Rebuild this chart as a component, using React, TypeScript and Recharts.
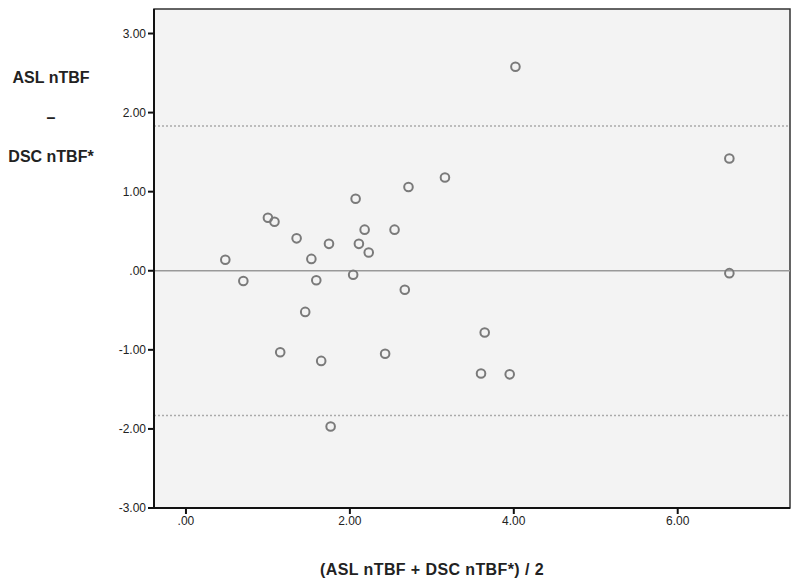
import React from 'react';
import { ScatterChart, Scatter, XAxis, YAxis, ReferenceLine, ReferenceArea } from 'recharts';

const meanValues = [0.48, 0.70, 1.00, 1.08, 1.15, 1.35, 1.455, 1.53, 1.59, 1.65, 1.745, 1.765, 2.04, 2.07, 2.11, 2.18, 2.23, 2.43, 2.545, 2.67, 2.715, 3.16, 4.02, 3.645, 3.60, 3.95, 6.63, 6.63];
const diffValues = [0.14, -0.13, 0.67, 0.62, -1.03, 0.41, -0.52, 0.15, -0.12, -1.14, 0.34, -1.97, -0.05, 0.91, 0.34, 0.52, 0.23, -1.05, 0.52, -0.24, 1.06, 1.18, 2.58, -0.78, -1.30, -1.31, 1.42, -0.03];
const xTicks = [0, 2, 4, 6];
const yTicks = [-3, -2, -1, 0, 1, 2, 3];
const meanDiff = 0;
const limitUpper = 1.83;
const limitLower = -1.83;
const xDomain: [number, number] = [-0.39, 7.37];
const yDomain: [number, number] = [-3, 3.31];

const data = meanValues.map((m, i) => ({ x: m, y: diffValues[i] }));

const fmt = (v: number) => (v === 0 ? '.00' : v.toFixed(2));

const FONT = '"Liberation Sans", Arial, sans-serif';

const YLabel = () => (
  <g>
    <text x={51} y={83} textAnchor="middle" fontFamily={FONT} fontWeight="bold" fontSize={16} fill="#222">ASL nTBF</text>
    <text x={51} y={123} textAnchor="middle" fontFamily={FONT} fontWeight="bold" fontSize={16} fill="#222">–</text>
    <text x={51} y={162} textAnchor="middle" fontFamily={FONT} fontWeight="bold" fontSize={16} fill="#222">DSC nTBF*</text>
  </g>
);

const XLabel = () => (
  <text x={432} y={575} textAnchor="middle" fontFamily={FONT} fontWeight="bold" fontSize={16} letterSpacing={0.4} fill="#222">(ASL nTBF + DSC nTBF*) / 2</text>
);

const Dot = (p: any) => (
  <circle cx={p.cx} cy={p.cy} r={4.3} fill="none" stroke="#7a7a7a" strokeWidth={2} />
);

export default function App() {
  return (
    <div style={{ position: 'absolute', left: 0, top: 0, width: 800, height: 585, background: '#fff' }}>
      <ScatterChart width={800} height={585} margin={{ top: 9, right: 10, bottom: 0, left: 0 }}>
        <ReferenceArea x1={xDomain[0]} x2={xDomain[1]} y1={yDomain[0]} y2={yDomain[1]} fill="#f3f3f3" fillOpacity={1} stroke="#333" strokeWidth={1.5} ifOverflow="visible" />
        <XAxis
          type="number"
          dataKey="x"
          domain={xDomain}
          ticks={xTicks}
          tickFormatter={fmt}
          allowDataOverflow
          height={77}
          axisLine={{ stroke: '#111', strokeWidth: 2 }}
          tickLine={{ stroke: '#111', strokeWidth: 2 }}
          tickSize={6}
          tick={{ fill: '#222', fontSize: 12, fontFamily: FONT }}
          label={<XLabel />}
        />
        <YAxis
          type="number"
          dataKey="y"
          domain={yDomain}
          ticks={yTicks}
          tickFormatter={fmt}
          allowDataOverflow
          width={154}
          axisLine={{ stroke: '#111', strokeWidth: 2 }}
          tickLine={{ stroke: '#111', strokeWidth: 2 }}
          tickSize={6}
          tick={{ fill: '#222', fontSize: 12, fontFamily: FONT }}
          label={<YLabel />}
        />
        <ReferenceLine y={meanDiff} stroke="#999" strokeWidth={1.5} />
        <ReferenceLine y={limitUpper} stroke="#aaa" strokeWidth={1.5} strokeDasharray="2 2" />
        <ReferenceLine y={limitLower} stroke="#aaa" strokeWidth={1.5} strokeDasharray="2 2" />
        <Scatter data={data} shape={Dot} isAnimationActive={false} />
      </ScatterChart>
    </div>
  );
}
